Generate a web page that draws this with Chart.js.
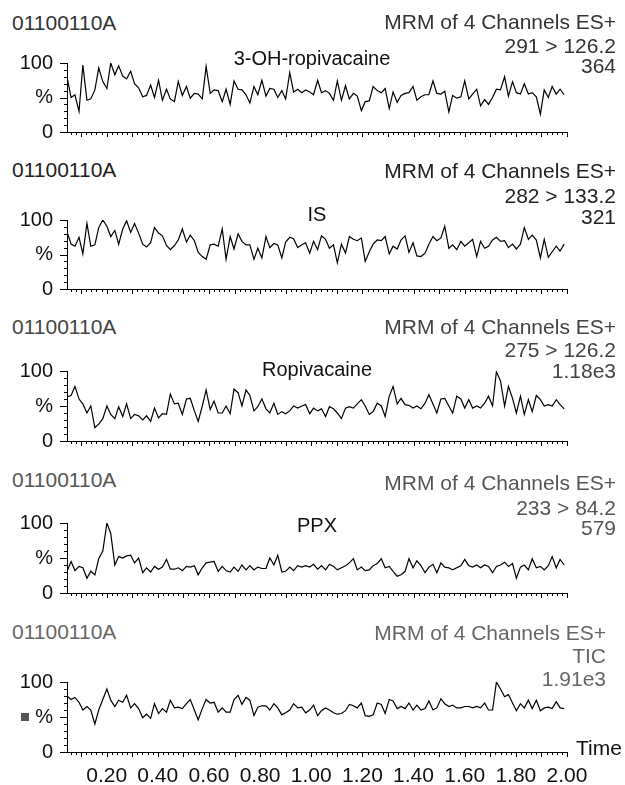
<!DOCTYPE html>
<html>
<head>
<meta charset="utf-8">
<script src="https://cdn.jsdelivr.net/npm/chart.js@4.4.1/dist/chart.umd.min.js"></script>
<style>
  body { margin: 0; background: #fff; width: 625px; height: 785px; position: relative; overflow: hidden;
         font-family: "Liberation Sans", Arial, sans-serif; }
  canvas { position: absolute; left: 0; }
  .t { position: absolute; white-space: nowrap; font-size: 21px; line-height: 24px; }
</style>
</head>
<body>
<script>
// scan times (min)
const times = [
  0.045,0.061,0.076,0.092,0.107,0.123,0.138,0.154,0.169,0.185,
  0.201,0.216,0.232,0.247,0.263,0.278,0.294,0.309,0.325,0.341,
  0.356,0.372,0.387,0.403,0.418,0.434,0.449,0.465,0.480,0.496,
  0.512,0.527,0.543,0.558,0.574,0.589,0.605,0.620,0.636,0.652,
  0.667,0.683,0.698,0.714,0.729,0.745,0.760,0.776,0.791,0.807,
  0.823,0.838,0.854,0.869,0.885,0.900,0.916,0.931,0.947,0.963,
  0.978,0.994,1.009,1.025,1.040,1.056,1.071,1.087,1.102,1.118,
  1.134,1.149,1.165,1.180,1.196,1.211,1.227,1.242,1.258,1.274,
  1.289,1.305,1.320,1.336,1.351,1.367,1.382,1.398,1.413,1.429,
  1.445,1.460,1.476,1.491,1.507,1.522,1.538,1.553,1.569,1.585,
  1.600,1.616,1.631,1.647,1.662,1.678,1.693,1.709,1.724,1.740,
  1.756,1.771,1.787,1.802,1.818,1.833,1.849,1.864,1.880,1.896,
  1.911,1.927,1.942,1.958,1.973,1.989
];

// relative intensity (%) per channel
const ohRopivacaine = [
  80,50,54,30,97,46,48,61,93,73,63,100,83,96,81,77,88,70,64,51,53,68,50,75,46,62,48,44,73,53,66,49,
  56,55,48,95,56,61,60,44,62,40,74,62,61,54,42,66,54,75,52,63,62,50,60,48,86,58,62,57,61,58,54,75,
  57,60,56,46,74,46,67,48,56,52,31,44,45,66,60,57,63,34,58,43,53,56,57,66,46,51,54,54,74,56,55,59,
  29,53,49,51,74,48,55,62,38,47,40,50,62,61,80,52,73,57,55,70,55,57,51,26,61,50,66,55,62,54
];
const isStd = [
  83,65,62,75,51,95,62,64,89,100,91,76,85,65,87,99,82,95,81,65,61,67,89,81,77,63,57,63,71,87,68,78,
  70,53,47,43,64,65,62,87,43,76,58,80,69,64,64,43,59,45,76,60,66,64,45,68,75,73,60,64,
  67,52,69,57,77,72,59,64,38,65,52,76,72,70,74,40,54,65,71,70,76,51,62,58,71,77,53,67,48,47,52,65,
  76,70,74,91,59,64,57,69,62,67,72,47,69,59,62,71,75,69,70,60,65,58,65,89,72,78,71,45,72,46,54,62,55,65
];
const ropivacaine = [
  63,65,78,60,53,40,50,19,24,32,50,38,32,49,35,53,32,38,36,30,36,28,47,33,39,38,67,53,54,38,60,61,
  43,28,50,73,45,57,40,40,50,39,74,69,50,73,65,43,49,60,46,40,54,38,42,39,43,50,47,50,
  52,39,47,43,46,35,49,46,40,32,47,49,47,53,59,50,38,42,54,50,35,64,78,53,61,52,51,47,50,46,54,66,
  53,40,60,61,50,40,64,60,47,59,47,50,47,54,64,50,99,86,50,78,61,40,64,38,59,42,65,59,50,52,50,59,52,46
];
const ppx = [
  31,45,32,38,36,21,31,26,49,60,100,85,40,52,50,53,54,43,50,29,36,30,38,34,37,48,34,34,36,32,38,37,
  39,26,36,43,44,45,31,38,32,30,37,31,40,33,39,33,37,35,35,50,40,54,30,31,37,32,39,37,
  39,37,41,34,39,33,41,38,33,36,39,43,49,33,37,32,33,39,42,49,36,38,31,24,26,31,49,36,46,39,29,37,
  41,29,43,37,36,33,36,39,48,39,37,40,36,40,38,29,38,40,44,38,42,21,37,40,33,49,36,38,33,39,52,36,48,40
];
const tic = [
  80,75,78,71,60,65,60,40,60,75,90,74,65,74,71,81,63,69,62,49,54,48,69,55,62,57,74,63,64,62,69,75,
  60,46,62,75,70,71,57,63,57,57,75,81,68,78,74,52,64,66,66,60,69,63,53,56,60,69,63,64,
  56,60,67,52,59,63,60,56,54,55,59,68,66,63,70,52,51,53,70,68,55,75,73,62,65,62,70,60,67,60,62,73,
  60,63,76,69,65,67,63,63,65,65,63,65,63,70,60,60,100,90,79,82,70,59,69,63,74,62,74,59,63,64,62,72,63,62
];

const sampleName = '01100110A';
const scanName = 'MRM of 4 Channels ES+';
const compounds = ['3-OH-ropivacaine', 'IS', 'Ropivacaine', 'PPX', ''];
const transitions = ['291 > 126.2', '282 > 133.2', '275 > 126.2', '233 > 84.2', 'TIC'];
const intensities = ['364', '321', '1.18e3', '579', '1.91e3'];
const series = [ohRopivacaine, isStd, ropivacaine, ppx, tic];
const yTickLabels = { 0: '0', 50: '%', 100: '100' };

// page layout per panel (pixel positions)
const boxes = [
  { top: 63,  bottom: 132, head: 23,  l1: 22,  l2: 46,  l3: 66,  nameX: 312, nameY: 58,  right: 616, color: '#333' },
  { top: 220, bottom: 289, head: 170, l1: 171, l2: 196, l3: 217, nameX: 317, nameY: 214, right: 616, color: '#222' },
  { top: 371, bottom: 441, head: 327, l1: 327, l2: 350, l3: 371, nameX: 317, nameY: 369, right: 616, color: '#444' },
  { top: 523, bottom: 593, head: 480, l1: 483, l2: 508, l3: 528, nameX: 317, nameY: 525, right: 616, color: '#555' },
  { top: 682, bottom: 752, head: 632, l1: 633, l2: 656, l3: 679, nameX: 317, nameY: 680, right: 606, color: '#666' }
];

Chart.defaults.font.family = '"Liberation Sans", Arial, sans-serif';

function addText(txt, x, cy, opts) {
  const d = document.createElement('div');
  d.className = 't';
  d.textContent = txt;
  d.style.top = (cy - 12) + 'px';
  if (opts.align === 'right') d.style.right = (625 - x) + 'px';
  else if (opts.align === 'center') { d.style.left = x + 'px'; d.style.transform = 'translateX(-50%)'; }
  else d.style.left = x + 'px';
  d.style.color = opts.color || '#111';
  if (opts.size) d.style.fontSize = opts.size + 'px';
  document.body.appendChild(d);
}

// small axis tick marks (minor + major)
const axisTicks = {
  id: 'axisTicks',
  afterDraw(chart) {
    const { ctx } = chart;
    const x = chart.scales.x, y = chart.scales.y;
    ctx.save();
    ctx.strokeStyle = '#000';
    ctx.lineWidth = 1;
    ctx.beginPath();
    for (let k = 3; k <= 100; k++) {
      const px = Math.round(x.getPixelForValue(k * 0.02)) + 0.5;
      const len = k % 5 === 0 ? 5 : 3;
      ctx.moveTo(px, y.bottom);
      ctx.lineTo(px, y.bottom + len);
    }
    for (let v = 0; v <= 100; v += 10) {
      const py = Math.round(y.getPixelForValue(v)) + 0.5;
      const len = v % 50 === 0 ? 7 : 3;
      ctx.moveTo(x.left, py);
      ctx.lineTo(x.left - len, py);
    }
    ctx.stroke();
    ctx.restore();
  }
};

const PAD_TOP = 16, PAD_BOTTOM = 6;

series.forEach((values, i) => {
  const b = boxes[i];
  const last = i === series.length - 1;
  const xh = last ? 33 : 10;
  const canvas = document.createElement('canvas');
  canvas.width = 625;
  canvas.height = (b.bottom - b.top) + PAD_TOP + xh + (last ? 0 : PAD_BOTTOM);
  canvas.style.top = (b.top - PAD_TOP) + 'px';
  document.body.appendChild(canvas);

  new Chart(canvas.getContext('2d'), {
    type: 'line',
    data: {
      labels: times,
      datasets: [{
        data: values,
        borderColor: '#000',
        borderWidth: 1.2,
        pointRadius: 0,
        tension: 0,
        fill: false
      }]
    },
    options: {
      responsive: false,
      animation: false,
      devicePixelRatio: 1,
      layout: { padding: { top: PAD_TOP, right: 58, left: 0, bottom: last ? 0 : PAD_BOTTOM } },
      plugins: { legend: { display: false }, tooltip: { enabled: false } },
      scales: {
        x: {
          type: 'linear',
          min: 0.045,
          max: 2.0,
          afterFit: (s) => { s.height = xh; s.paddingLeft = 0; s.paddingRight = 0; },
          grid: { display: false, drawTicks: false },
          border: { display: true, color: '#000', width: 1 },
          ticks: {
            display: last,
            stepSize: 0.2,
            includeBounds: false,
            autoSkip: false,
            maxRotation: 0,
            padding: 12,
            color: '#111',
            font: { size: 21 },
            callback: (v) => Number(v).toFixed(2)
          }
        },
        y: {
          min: 0,
          max: 100,
          afterFit: (s) => { s.width = 67; s.paddingTop = 0; s.paddingBottom = 0; },
          grid: { display: false, drawTicks: false },
          border: { display: true, color: '#000', width: 1 },
          ticks: {
            stepSize: 50,
            padding: 14,
            color: '#111',
            font: { size: 20 },
            callback: (v) => yTickLabels[v] ?? ''
          }
        }
      }
    },
    plugins: [axisTicks]
  });

  addText(sampleName, 12, b.head, { color: b.color });
  addText(scanName, b.right, b.l1, { align: 'right', color: b.color });
  addText(transitions[i], b.right, b.l2, { align: 'right', color: b.color });
  addText(intensities[i], b.right, b.l3, { align: 'right', color: b.color });
  if (compounds[i]) addText(compounds[i], b.nameX, b.nameY, { align: 'center', color: '#111', size: 20 });
});

addText('Time', 576, 748, { color: '#111' });

const sq = document.createElement('div');
sq.style.cssText = 'position:absolute;left:21px;top:713px;width:8px;height:8px;background:#555;';
document.body.appendChild(sq);
</script>
</body>
</html>
